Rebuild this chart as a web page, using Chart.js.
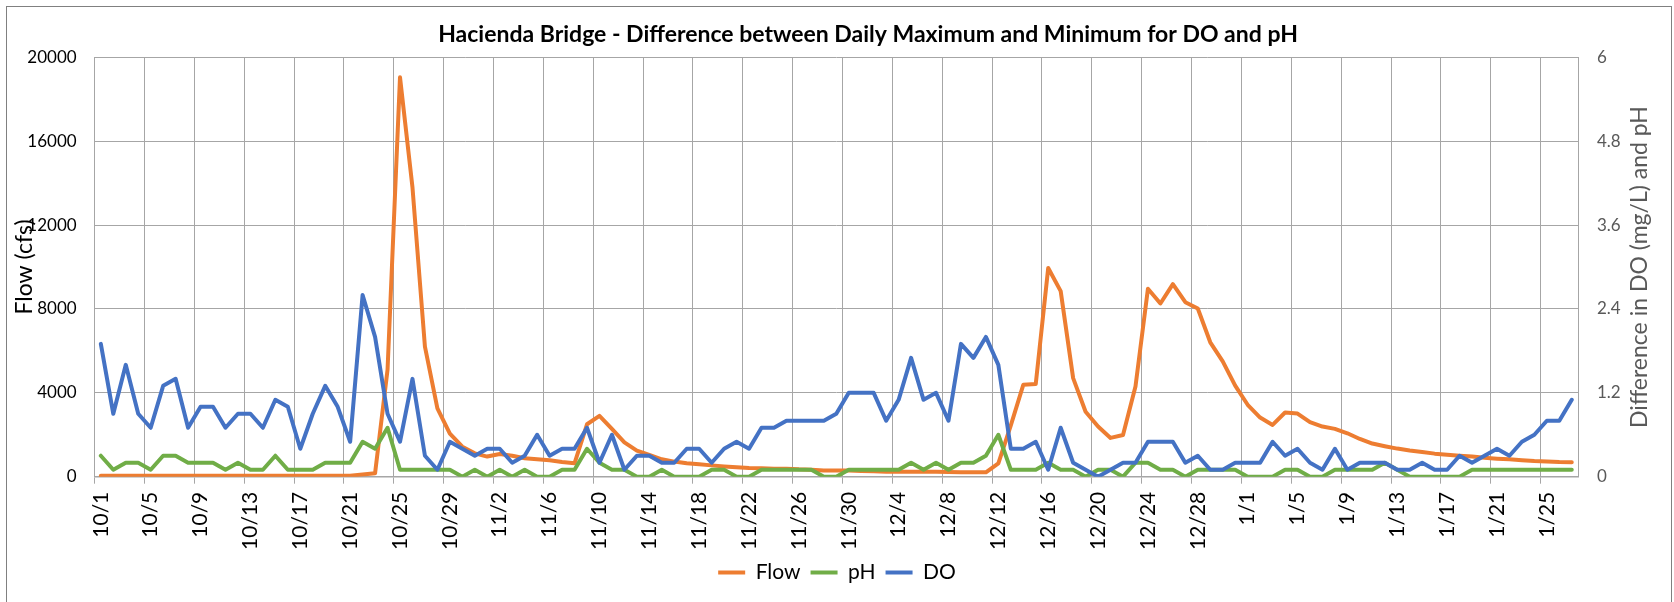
<!DOCTYPE html>
<html>
<head>
<meta charset="utf-8">
<title>Hacienda Bridge</title>
<script src="https://cdn.jsdelivr.net/npm/chart.js@4.4.1/dist/chart.umd.min.js"></script>
<style>
    html, body { margin: 0; padding: 0; background: #fff; }
    #wrap { width: 1674px; height: 602px; }
</style>
</head>
<body>
<div id="wrap"><canvas id="line-chart" width="1674" height="602"></canvas></div>
<script>
// daily categories 10/1 .. 1/27
var months = ["10", "11", "12", "1"];
var monthDays = [31, 30, 31, 27];
var dateLabels = [];
for (var m = 0; m < months.length; m++) {
    for (var d = 1; d <= monthDays[m]; d++) {
        dateLabels.push(months[m] + "/" + d);
    }
}

// Flow (cfs), left axis
var flowCfs = [
    40, 40, 40, 40, 40, 40, 40, 40, 40, 40,
    40, 40, 40, 40, 40, 40, 40, 40, 40, 40,
    50, 110, 160, 5100, 19050, 13800, 6200, 3260, 2050, 1430,
    1115, 960, 1080, 1000, 880, 830, 780, 700, 640, 2500,
    2900, 2280, 1640, 1240, 1040, 830, 720, 640, 590, 540,
    490, 450, 415, 400, 380, 380, 350, 335, 290, 290,
    290, 270, 255, 240, 240, 240, 240, 240, 225, 210,
    210, 210, 640, 2450, 4380, 4420, 9950, 8850, 4700, 3100,
    2390, 1850, 1990, 4300, 8960, 8260, 9180, 8320, 8020, 6410,
    5500, 4340, 3430, 2820, 2470, 3060, 3010, 2600, 2390, 2280,
    2070, 1800, 1580, 1455, 1340, 1250, 1180, 1100, 1050, 1000,
    960, 900, 860, 830, 790, 750, 730, 700, 690
];

// daily max - min pH, right axis
var phDiff = [
    0.3, 0.1, 0.2, 0.2, 0.1, 0.3, 0.3, 0.2, 0.2, 0.2,
    0.1, 0.2, 0.1, 0.1, 0.3, 0.1, 0.1, 0.1, 0.2, 0.2,
    0.2, 0.5, 0.4, 0.7, 0.1, 0.1, 0.1, 0.1, 0.1, 0,
    0.1, 0, 0.1, 0, 0.1, 0, 0, 0.1, 0.1, 0.4,
    0.2, 0.1, 0.1, 0, 0, 0.1, 0, 0, 0, 0.1,
    0.1, 0, 0, 0.1, 0.1, 0.1, 0.1, 0.1, 0, 0,
    0.1, 0.1, 0.1, 0.1, 0.1, 0.2, 0.1, 0.2, 0.1, 0.2,
    0.2, 0.3, 0.6, 0.1, 0.1, 0.1, 0.2, 0.1, 0.1, 0,
    0.1, 0.1, 0, 0.2, 0.2, 0.1, 0.1, 0, 0.1, 0.1,
    0.1, 0.1, 0, 0, 0, 0.1, 0.1, 0, 0, 0.1,
    0.1, 0.1, 0.1, 0.2, 0.1, 0, 0, 0, 0, 0,
    0.1, 0.1, 0.1, 0.1, 0.1, 0.1, 0.1, 0.1, 0.1
];

// daily max - min DO (mg/L), right axis
var doDiff = [
    1.9, 0.9, 1.6, 0.9, 0.7, 1.3, 1.4, 0.7, 1.0, 1.0,
    0.7, 0.9, 0.9, 0.7, 1.1, 1.0, 0.4, 0.9, 1.3, 1.0,
    0.5, 2.6, 2.0, 0.9, 0.5, 1.4, 0.3, 0.1, 0.5, 0.4,
    0.3, 0.4, 0.4, 0.2, 0.3, 0.6, 0.3, 0.4, 0.4, 0.7,
    0.2, 0.6, 0.1, 0.3, 0.3, 0.2, 0.2, 0.4, 0.4, 0.2,
    0.4, 0.5, 0.4, 0.7, 0.7, 0.8, 0.8, 0.8, 0.8, 0.9,
    1.2, 1.2, 1.2, 0.8, 1.1, 1.7, 1.1, 1.2, 0.8, 1.9,
    1.7, 2.0, 1.6, 0.4, 0.4, 0.5, 0.1, 0.7, 0.2, 0.1,
    0, 0.1, 0.2, 0.2, 0.5, 0.5, 0.5, 0.2, 0.3, 0.1,
    0.1, 0.2, 0.2, 0.2, 0.5, 0.3, 0.4, 0.2, 0.1, 0.4,
    0.1, 0.2, 0.2, 0.2, 0.1, 0.1, 0.2, 0.1, 0.1, 0.3,
    0.2, 0.3, 0.4, 0.3, 0.5, 0.6, 0.8, 0.8, 1.1
];

var gridGray = "#a6a6a6";
var plotLeft = 94.6, plotRight = 1578, plotTop = 57.3, plotBottom = 476.7;
var lineW = 4;

// white background + the thin frame round the whole chart
var framePlugin = {
    id: "frame",
    beforeDraw: function(chart) {
        var c = chart.ctx;
        c.save();
        c.fillStyle = "#fff";
        c.fillRect(0, 0, chart.width, chart.height);
        c.strokeStyle = "#808080";
        c.lineWidth = 1;
        c.strokeRect(6.5, 6.5, 1665, 620);
        c.restore();
    }
};

// chart title and right axis title (it reads bottom to top, like the left one)
var textPlugin = {
    id: "texts",
    afterDraw: function(chart) {
        var c = chart.ctx;
        c.save();
        c.fillStyle = "#000";
        c.font = "bold 23px Lato";
        c.textAlign = "center";
        c.textBaseline = "middle";
        c.fillText("Hacienda Bridge - Difference between Daily Maximum and Minimum for DO and pH", 868, 35);

        c.translate(1640, (plotTop + plotBottom) / 2);
        c.rotate(-Math.PI / 2);
        c.fillStyle = "#595959";
        c.font = "23px Lato";
        c.fillText("Difference in DO (mg/L) and pH", 0, 0);
        c.restore();
    }
};

Chart.defaults.font.family = "Lato";

var ctx = document.getElementById("line-chart").getContext("2d");
var lineChart = new Chart(ctx, {
    type: "line",
    data: {
        labels: dateLabels,
        datasets: [
            { label: "Flow", data: flowCfs, borderColor: "#ED7D31", backgroundColor: "#ED7D31", borderWidth: lineW, yAxisID: "y", order: 3 },
            { label: "pH", data: phDiff, borderColor: "#70AD47", backgroundColor: "#70AD47", borderWidth: lineW, yAxisID: "y1", order: 2 },
            { label: "DO", data: doDiff, borderColor: "#4472C4", backgroundColor: "#4472C4", borderWidth: lineW, yAxisID: "y1", order: 1 }
        ]
    },
    options: {
        responsive: false,
        animation: false,
        layout: { padding: { top: plotTop, bottom: 9, left: 0, right: 0 } },
        elements: {
            point: { radius: 0 },
            line: { tension: 0, borderJoinStyle: "round", borderCapStyle: "round" }
        },
        plugins: {
            title: { display: false },
            tooltip: { enabled: false },
            legend: {
                position: "bottom",
                labels: {
                    usePointStyle: true,
                    pointStyle: "line",
                    pointStyleWidth: 27,
                    padding: 10,
                    color: "#000",
                    font: { size: 21 },
                    sort: function(a, b) { return a.datasetIndex - b.datasetIndex; }
                }
            }
        },
        scales: {
            x: {
                offset: true,
                grid: {
                    offset: true,
                    tickLength: 7,
                    color: function(c) { return c.index % 4 === 0 ? gridGray : "rgba(0,0,0,0)"; }
                },
                border: { display: true, color: gridGray, width: 1.5 },
                ticks: {
                    autoSkip: false,
                    maxRotation: 90,
                    minRotation: 90,
                    padding: 8,
                    color: "#000",
                    font: { size: 21 },
                    callback: function(v, i) { return i % 4 === 0 ? this.getLabelForValue(v) : ""; }
                },
                afterFit: function(s) { s.height = 75.3; }
            },
            y: {
                position: "left",
                min: 0,
                max: 20000,
                ticks: {
                    stepSize: 4000,
                    padding: 18,
                    color: "#000",
                    font: { size: 17 },
                    callback: function(v) { return String(v); }
                },
                grid: { color: gridGray, drawTicks: false },
                border: { display: true, color: gridGray },
                title: { display: true, text: "Flow (cfs)", color: "#000", font: { size: 23 }, padding: { top: 11, bottom: 0 } },
                afterFit: function(s) { s.width = plotLeft; }
            },
            y1: {
                position: "right",
                min: 0,
                max: 6,
                ticks: {
                    stepSize: 1.2,
                    padding: 19,
                    color: "#595959",
                    font: { size: 17 },
                    callback: function(v) { return String(Math.round(v * 10) / 10); }
                },
                grid: { drawOnChartArea: false, drawTicks: false },
                border: { display: true, color: gridGray },
                afterFit: function(s) { s.width = 1674 - plotRight; }
            }
        }
    },
    plugins: [framePlugin, textPlugin]
});
</script>
</body>
</html>
